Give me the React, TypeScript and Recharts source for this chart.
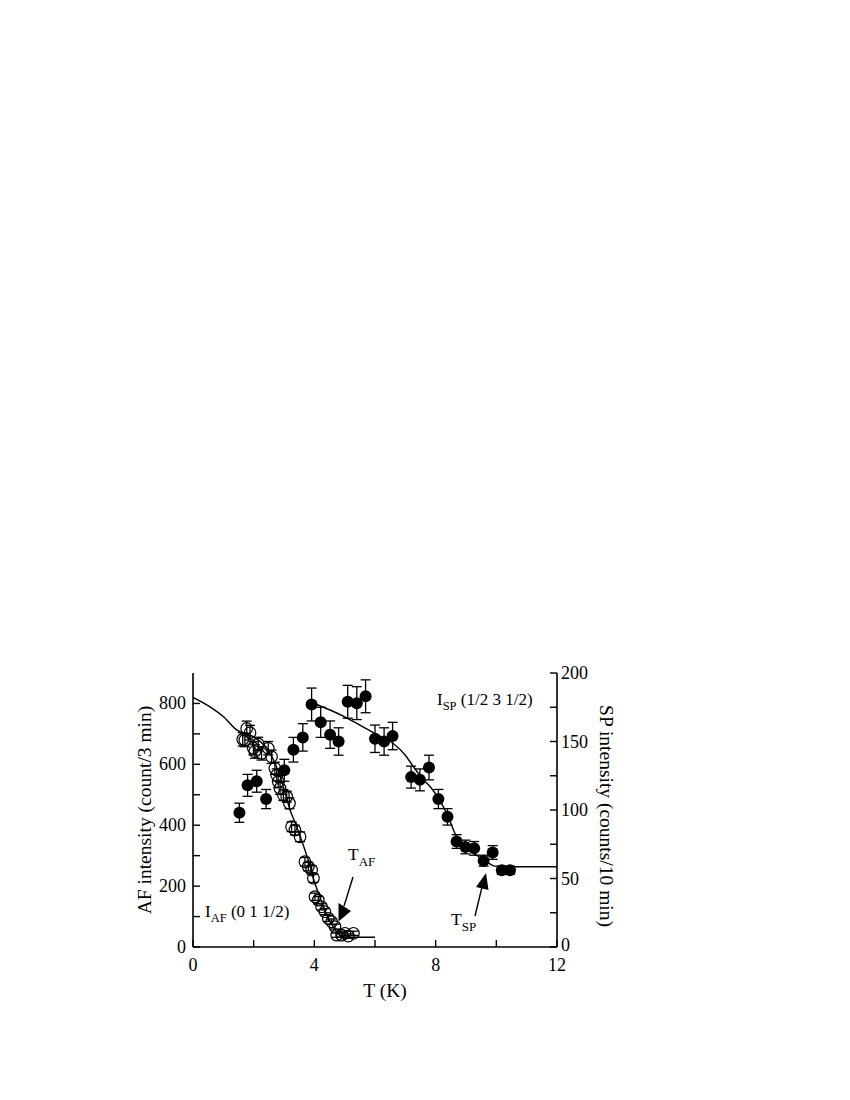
import React from 'react';
import { ComposedChart, Scatter, Line, XAxis, YAxis, ErrorBar } from 'recharts';

// AF (0 1 1/2), open circles, left axis (count/3 min)
const afT = [1.64, 1.71, 1.77, 1.88, 1.99, 2.04, 2.15, 2.26, 2.48, 2.59, 2.70, 2.76, 2.81, 2.87, 2.98, 3.09, 3.18, 3.25, 3.36, 3.53, 3.69, 3.80, 3.91, 3.97, 4.02, 4.13, 4.24, 4.35, 4.46, 4.57, 4.68, 4.74, 4.90, 5.01, 5.12, 5.29];
const afI = [682, 680, 718, 704, 653, 642, 667, 636, 653, 625, 587, 565, 543, 521, 499, 494, 472, 395, 384, 362, 280, 264, 253, 226, 165, 154, 132, 116, 94, 83, 67, 39, 39, 45, 36, 45];
const afErr = [22, 22, 24, 24, 22, 22, 22, 22, 22, 22, 20, 20, 20, 20, 18, 18, 18, 16, 16, 16, 14, 14, 14, 14, 12, 12, 10, 10, 10, 9, 8, 7, 7, 7, 7, 7];

// SP (1/2 3 1/2), filled circles, right axis (counts/10 min)
const spT = [1.53, 1.80, 2.10, 2.41, 3.01, 3.31, 3.62, 3.91, 4.21, 4.52, 4.80, 5.10, 5.40, 5.69, 6.00, 6.30, 6.58, 7.19, 7.48, 7.78, 8.09, 8.39, 8.69, 8.98, 9.27, 9.58, 9.88, 10.18, 10.45];
const spI = [98, 118, 121, 108, 129, 144, 153, 177, 164, 155, 150, 179, 178, 183, 152, 150, 154, 124, 122, 131, 108, 95, 77, 73, 72, 63, 69, 56, 56];
const spErr = [7, 8, 8, 7, 8, 9, 10, 12, 11, 10, 10, 12, 12, 12, 10, 10, 10, 8, 8, 9, 7, 6, 5, 5, 5, 4, 5, 3, 3];

// fitted curves
const afFitT = [0, 0.56, 1.0, 1.44, 2.0, 2.54, 2.8, 3.0, 3.2, 3.4, 3.6, 3.8, 4.0, 4.2, 4.4, 4.6, 4.8, 5.0, 5.4, 6.0];
const afFitI = [820, 789, 757, 713, 690, 637, 580, 520, 450, 400, 345, 285, 215, 160, 108, 70, 42, 33, 32, 32];
const spFitT = [4.08, 4.52, 5.0, 5.5, 6.06, 6.6, 7.0, 7.27, 7.6, 7.82, 8.05, 8.25, 8.45, 8.69, 8.9, 9.13, 9.35, 9.57, 9.8, 9.96, 10.5, 12];
const spFitI = [177, 173, 168, 162, 155, 148.5, 140, 131.5, 122, 117, 110, 102.5, 93, 80.5, 75, 71, 67, 63.5, 60.5, 59, 58.6, 58.6];

const xTicks = [0, 2, 4, 6, 8, 10, 12];
const xLabels = [0, 4, 8, 12];
const leftTicks = [0, 100, 200, 300, 400, 500, 600, 700, 800];
const leftLabels = [0, 200, 400, 600, 800];
const rightTicks = [0, 25, 50, 75, 100, 125, 150, 175, 200];
const rightLabels = [0, 50, 100, 150, 200];

const afData = afT.map((t, i) => ({ t, v: afI[i], e: afErr[i] }));
const spData = spT.map((t, i) => ({ t, v: spI[i], e: spErr[i] }));
const afFit = afFitT.map((t, i) => ({ t, v: afFitI[i] }));
const spFit = spFitT.map((t, i) => ({ t, v: spFitI[i] }));

const FONT = '"Liberation Serif", "DejaVu Serif", serif';
const TL = 7;
const SW = 1.4;
const TICK_FS = 18;

const BottomTick = ({ x, y, payload }: any) => (
  <g>
    <line x1={x} x2={x} y1={y} y2={y - TL} stroke="#000" strokeWidth={SW} />
    {xLabels.includes(payload.value) && (
      <text x={x} y={y + 24} textAnchor="middle" fontSize={TICK_FS} fontFamily={FONT} fill="#000">{payload.value}</text>
    )}
  </g>
);
const TopTick = ({ x, y }: any) => (
  <line x1={x} x2={x} y1={y} y2={y + TL} stroke="#000" strokeWidth={SW} />
);
const LeftTick = ({ x, y, payload }: any) => (
  <g>
    <line x1={x} x2={x + TL} y1={y} y2={y} stroke="#000" strokeWidth={SW} />
    {leftLabels.includes(payload.value) && (
      <text x={x - 7} y={y + 6} textAnchor="end" fontSize={TICK_FS} fontFamily={FONT} fill="#000">{payload.value}</text>
    )}
  </g>
);
const RightTick = ({ x, y, payload }: any) => (
  <g>
    <line x1={x} x2={x - TL} y1={y} y2={y} stroke="#000" strokeWidth={SW} />
    {rightLabels.includes(payload.value) && (
      <text x={x + 4} y={y + (payload.value === 0 ? 4 : 6)} textAnchor="start" fontSize={TICK_FS} fontFamily={FONT} fill="#000">{payload.value}</text>
    )}
  </g>
);

const OpenDot = ({ cx, cy }: any) => <circle cx={cx} cy={cy} r={5.8} fill="none" stroke="#000" strokeWidth={1.2} />;
const FullDot = ({ cx, cy }: any) => <circle cx={cx} cy={cy} r={6} fill="#000" />;

export default function App() {
  return (
    <div style={{ position: 'absolute', left: 0, top: 0, width: 850, height: 1100 }}>
      <ComposedChart width={850} height={1100} margin={{ top: 673, left: 133, right: 233, bottom: 113 }}>
        <XAxis xAxisId="b" dataKey="t" type="number" domain={[0, 12]} ticks={xTicks} allowDataOverflow
          height={40} tickSize={0} tickMargin={0} tickLine={false} tick={<BottomTick />}
          axisLine={{ stroke: '#000', strokeWidth: 1.6 }} />
        <XAxis xAxisId="t" orientation="top" dataKey="t" type="number" domain={[0, 12]} ticks={xTicks} allowDataOverflow
          height={0} tickSize={0} tickMargin={0} tickLine={false} tick={<TopTick />}
          axisLine={{ stroke: '#000', strokeWidth: 1.6 }} />
        <YAxis yAxisId="l" dataKey="v" type="number" domain={[0, 900]} ticks={leftTicks} allowDataOverflow
          width={60} tickSize={0} tickMargin={0} tickLine={false} tick={<LeftTick />}
          axisLine={{ stroke: '#000', strokeWidth: 1.6 }} />
        <YAxis yAxisId="r" orientation="right" dataKey="v" type="number" domain={[0, 200]} ticks={rightTicks} allowDataOverflow
          width={60} tickSize={0} tickMargin={0} tickLine={false} tick={<RightTick />}
          axisLine={{ stroke: '#000', strokeWidth: 1.6 }} />

        <Line xAxisId="b" yAxisId="l" data={afFit} dataKey="v" type="monotone" dot={false}
          stroke="#000" strokeWidth={1.4} isAnimationActive={false} />
        <Line xAxisId="b" yAxisId="r" data={spFit} dataKey="v" type="monotone" dot={false}
          stroke="#000" strokeWidth={1.4} isAnimationActive={false} />

        <Scatter xAxisId="b" yAxisId="l" data={afData} dataKey="v" shape={<OpenDot />} isAnimationActive={false}>
          <ErrorBar dataKey="e" direction="y" width={5} stroke="#000" strokeWidth={1.3} />
        </Scatter>
        <Scatter xAxisId="b" yAxisId="r" data={spData} dataKey="v" shape={<FullDot />} isAnimationActive={false}>
          <ErrorBar dataKey="e" direction="y" width={5} stroke="#000" strokeWidth={1.3} />
        </Scatter>
      </ComposedChart>

      <svg width={850} height={1100} style={{ position: 'absolute', left: 0, top: 0, pointerEvents: 'none' }}
        fontFamily={FONT} fill="#000">
        <text x={385} y={997} textAnchor="middle" fontSize={19.5}>T (K)</text>
        <text transform="translate(151,810) rotate(-90)" textAnchor="middle" fontSize={19.5}>AF intensity (count/3 min)</text>
        <text transform="translate(600,816) rotate(90)" textAnchor="middle" fontSize={19.5}>SP intensity (counts/10 min)</text>

        <text x={437} y={705} fontSize={17}>I<tspan fontSize={12.5} dy={5}>SP</tspan><tspan dy={-5}> (1/2 3 1/2)</tspan></text>
        <text x={205} y={917} fontSize={17}>I<tspan fontSize={12.5} dy={5}>AF</tspan><tspan dy={-5}> (0 1 1/2)</tspan></text>
        <text x={348} y={860} fontSize={17.5}>T<tspan fontSize={13} dy={6}>AF</tspan></text>
        <text x={451} y={925} fontSize={17.5}>T<tspan fontSize={13} dy={6}>SP</tspan></text>

        <line x1={353} y1={877} x2={344} y2={906} stroke="#000" strokeWidth={1.4} />
        <polygon points="338.5,921.5 338.5,903 351,911" fill="#000" />
        <line x1={475} y1={916} x2={482} y2={887} stroke="#000" strokeWidth={1.4} />
        <polygon points="486,873 476,887 488.5,890" fill="#000" />
      </svg>
    </div>
  );
}
